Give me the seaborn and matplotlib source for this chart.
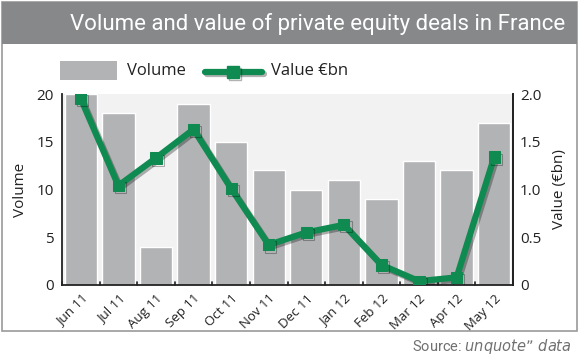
import matplotlib
matplotlib.use("Agg")
import matplotlib.pyplot as plt
import seaborn as sns
import pandas as pd
from matplotlib.patches import Rectangle
from matplotlib.lines import Line2D
import matplotlib.patheffects as pe

months = ["Jun 11", "Jul 11", "Aug 11", "Sep 11", "Oct 11", "Nov 11",
          "Dec 11", "Jan 12", "Feb 12", "Mar 12", "Apr 12", "May 12"]
volume = [20, 18, 4, 19, 15, 12, 10, 11, 9, 13, 12, 17]
value_bn = [1.95, 1.04, 1.33, 1.63, 1.01, 0.42, 0.55, 0.63, 0.21, 0.04, 0.08, 1.34]

df = pd.DataFrame({"month": months, "volume": volume, "value": value_bn})

sns.set_style("white")
plt.rcParams["font.family"] = ["Open Sans", "DejaVu Sans"]

fig = plt.figure(figsize=(5.8, 3.58), dpi=100)

# outer frame
fig.patches.append(Rectangle((2/580, 1-331/358), 575/580, 329/358, transform=fig.transFigure,
                             facecolor="white", edgecolor="#9a9a9a", lw=1.2, zorder=-5))
# title banner
fig.patches.append(Rectangle((2/580, 1-44/358), 575/580, 42/358, transform=fig.transFigure,
                             facecolor="#87888a", edgecolor="none", zorder=-4))
fig.text(0.975, 1-24/358, "Volume and value of private equity deals in France",
         ha="right", va="center", color="white", fontsize=16,
         family=["Roboto", "DejaVu Sans"])

ax = fig.add_axes([62/580, 1-285/358, 451/580, 191/358])
ax.set_facecolor("#f2f2f2")
sns.barplot(data=df, x="month", y="volume", color="#b2b3b5", saturation=1,
            width=0.86, ax=ax, zorder=2)
ax.set_ylim(0, 20)
ax.set_xlim(-0.5, 11.5)
ax.set_yticks([0, 5, 10, 15, 20])
ax.set_ylabel("Volume", fontsize=11, color="#222222", labelpad=6)
ax.set_xlabel("")
ax.tick_params(axis="y", length=0, labelsize=11, pad=6, colors="#222222")
ax.set_xticks(range(12))
ax.set_xticklabels(months, rotation=45, ha="right", rotation_mode="anchor",
                   fontsize=9.5, color="#222222")
ax.tick_params(axis="x", length=0, pad=5)
for b in [i + 0.5 for i in range(-1, 12)]:
    ax.plot([b, b], [0, 0.35], color="#222222", lw=1.2, zorder=3, clip_on=False)
ax.spines["top"].set_visible(False)
for s in ["left", "right", "bottom"]:
    ax.spines[s].set_visible(True)
    ax.spines[s].set_color("#222222")
    ax.spines[s].set_linewidth(1.3)

ax2 = ax.twinx()
green = "#0f8a50"
shadow = [pe.SimpleLineShadow(offset=(1.5, -1.5), alpha=0.3), pe.Normal()]
sns.lineplot(x=list(range(12)), y=df["value"].tolist(), ax=ax2, color=green, lw=4.5,
             marker="s", markersize=8, markeredgecolor=green, markerfacecolor=green,
             zorder=5, path_effects=shadow)
ax2.set_ylim(0, 2)
ax2.set_yticks([0, 0.5, 1.0, 1.5, 2.0])
ax2.set_yticklabels(["0", "0.5", "1.0", "1.5", "2.0"])
ax2.set_ylabel("Value (€bn)", fontsize=11, color="#222222", labelpad=8)
ax2.tick_params(axis="y", length=0, labelsize=11, pad=5, colors="#222222")
for s in ["top", "left", "bottom"]:
    ax2.spines[s].set_visible(False)
ax2.spines["right"].set_color("#222222")
ax2.spines["right"].set_linewidth(1.3)

# legend
fig.patches.append(Rectangle((60/580, 1-80/358), 57/580, 19/358, transform=fig.transFigure,
                             facecolor="#b2b3b5", edgecolor="none", zorder=3))
fig.text(127/580, 1-71/358, "Volume", fontsize=12, va="center", ha="left", color="#222222")
leg_line = Line2D([205/580, 262/580], [1-72/358, 1-72/358], transform=fig.transFigure,
                  color=green, lw=4.5, path_effects=shadow)
fig.lines.append(leg_line)
mk = Line2D([233/580], [1-72/358], transform=fig.transFigure, color=green, marker="s",
            markersize=9, lw=0, path_effects=shadow)
fig.lines.append(mk)
fig.text(271/580, 1-71/358, "Value €bn", fontsize=12, va="center", ha="left", color="#222222")

fig.text(0.985, 1-346/358, "Source: $\\it{unquote\u201d\\ data}$", fontsize=10.5,
         ha="right", va="center", color="#707070",
         family=["Roboto", "DejaVu Sans"])

fig.savefig("out.png", dpi=100)
